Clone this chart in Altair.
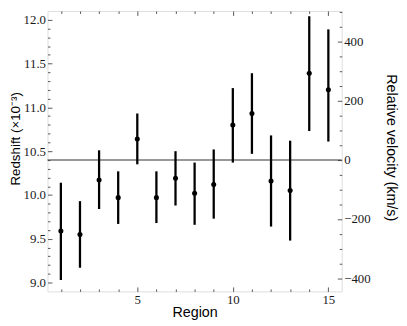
import altair as alt
import pandas as pd

# ---- data ----
region = list(range(1, 16))
z = [9.59, 9.55, 10.17, 9.97, 10.64, 9.97, 10.19, 10.02, 10.12, 10.80, 10.93, 10.16, 10.05, 11.39, 11.20]
z_lo = [9.03, 9.17, 9.84, 9.67, 10.35, 9.68, 9.88, 9.66, 9.73, 10.37, 10.47, 9.64, 9.48, 10.73, 10.61]
z_hi = [10.14, 9.93, 10.51, 10.27, 10.93, 10.27, 10.50, 10.37, 10.52, 11.22, 11.39, 10.68, 10.62, 12.04, 11.89]
z_ref = 10.40          # reference redshift (x10^-3), horizontal line
c_kms = 299792.458

x_major = [5, 10, 15]
x_minor = [v for v in range(1, 16) if v % 5 != 0]
y_major = [9.0, 9.5, 10.0, 10.5, 11.0, 11.5, 12.0]
y_minor = [round(9.0 + 0.1 * i, 1) for i in range(31) if i % 5 != 0]
v_major = [-400, -200, 0, 200, 400]
v_minor = [v for v in range(-400, 501, 50) if v % 200 != 0]


def to_vel(zz):
    return (zz - z_ref) * 1e-3 * c_kms / (1 + z_ref * 1e-3)


df = pd.DataFrame(dict(region=region, z=z, lo=z_lo, hi=z_hi))
df["v"] = [to_vel(q) for q in z]

X_DOM = [0.3, 15.7]
Y_DOM = [8.9, 12.1]
V_DOM = [to_vel(Y_DOM[0]), to_vel(Y_DOM[1])]

xs = alt.Scale(domain=X_DOM, nice=False, zero=False)
ys = alt.Scale(domain=Y_DOM, nice=False, zero=False)
vs = alt.Scale(domain=V_DOM, nice=False, zero=False)

SERIF = "Liberation Serif"
SANS = "Liberation Sans"
INK = "#1a1a1a"
TICK = "#444444"
MAJ, MIN = 4.5, 2.5
W, H = 298, 284


def tick_axis(orient, values, size):
    return alt.Axis(orient=orient, values=values, tickSize=size, offset=-size,
                    labels=False, domain=False, grid=False, title=None,
                    tickColor=TICK, tickWidth=0.9)


base = alt.Chart(df)

errbars = base.mark_rule(color="black", strokeWidth=2.3).encode(
    x=alt.X("region:Q", scale=xs, axis=alt.Axis(
        orient="bottom", values=x_major, ticks=False, tickSize=0, domain=False, grid=False,
        labelFont=SERIF, labelFontSize=13, labelColor=INK, labelPadding=2,
        title="Region", titleFont=SANS, titleFontSize=14.5, titleFontWeight="normal",
        titleColor="black", titleX=W / 2, titleY=25, titleBaseline="alphabetic", titleAlign="center")),
    y=alt.Y("lo:Q", scale=ys, axis=alt.Axis(
        orient="left", values=y_major, format=".1f", ticks=False, tickSize=0, domain=False, grid=False,
        labelFont=SERIF, labelFontSize=13, labelColor=INK, labelPadding=2,
        title="Redshift (×10⁻³)", titleFont=SANS, titleFontSize=13.5, titleFontWeight="normal",
        titleColor="black", titleX=-32, titleY=129, titleAngle=270, titleBaseline="middle", titleAlign="center")),
    y2="hi:Q",
)

points = base.mark_circle(color="black", size=26, opacity=1).encode(
    x=alt.X("region:Q", scale=xs, axis=tick_axis("bottom", x_major, MAJ)),
    y=alt.Y("z:Q", scale=ys, axis=tick_axis("left", y_major, MAJ)),
)

inv1 = base.mark_point(opacity=0).encode(
    x=alt.X("region:Q", scale=xs, axis=tick_axis("bottom", x_minor, MIN)),
    y=alt.Y("z:Q", scale=ys, axis=tick_axis("left", y_minor, MIN)),
)

inv2 = base.mark_point(opacity=0).encode(
    x=alt.X("region:Q", scale=xs, axis=tick_axis("top", x_major, MAJ)),
    y=alt.Y("v:Q", scale=vs, axis=alt.Axis(
        orient="right", values=v_major, ticks=False, tickSize=0, domain=False, grid=False,
        labelFont=SERIF, labelFontSize=13, labelColor=INK, labelPadding=2,
        title="Relative velocity (km/s)", titleFont=SANS, titleFontSize=14.5, titleFontWeight="normal",
        titleColor="black", titleX=49, titleY=138, titleAngle=90, titleBaseline="middle", titleAlign="center")),
)

inv3 = base.mark_point(opacity=0).encode(
    x=alt.X("region:Q", scale=xs, axis=tick_axis("top", x_minor, MIN)),
    y=alt.Y("v:Q", scale=vs, axis=tick_axis("right", v_major, MAJ)),
)

inv4 = base.mark_point(opacity=0).encode(
    x=alt.X("region:Q", scale=xs, axis=None),
    y=alt.Y("v:Q", scale=vs, axis=tick_axis("right", v_minor, MIN)),
)

hline = alt.Chart(pd.DataFrame({"zr": [z_ref]})).mark_rule(color="#333333", strokeWidth=1.1).encode(
    y=alt.Y("zr:Q", scale=ys, axis=None),
)

chart = alt.layer(hline, errbars, points, inv1, inv2, inv3, inv4).resolve_scale(
    x="independent", y="independent"
).resolve_axis(
    x="independent", y="independent"
).properties(
    width=W, height=H,
    autosize=alt.AutoSizeParams(type="none"),
    padding={"left": 40, "top": 1, "right": 58, "bottom": 31},
).configure_view(
    stroke="#444444", strokeWidth=1
).configure(background="white")

chart.save("out.html", embed_options={"renderer": "svg", "actions": False})
